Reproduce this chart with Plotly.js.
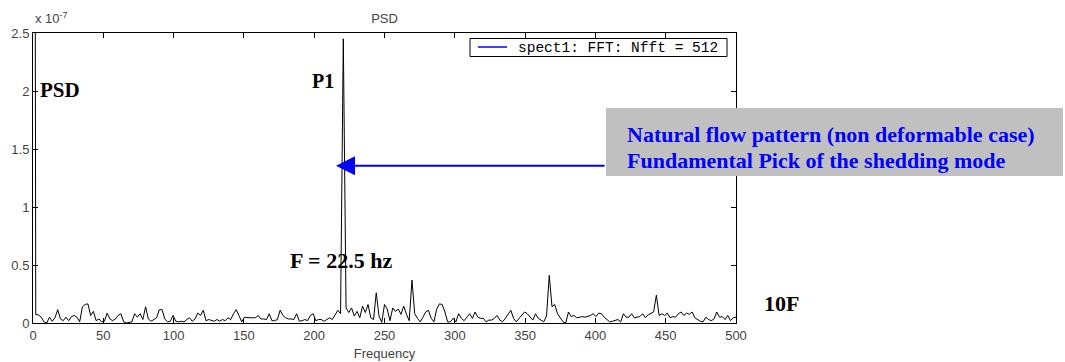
<!DOCTYPE html>
<html>
<head>
<meta charset="utf-8">
<script src="https://cdn.plot.ly/plotly-3.0.1.min.js"></script>
<style>html,body{margin:0;padding:0;background:#fff;}#chart{width:1065px;height:362px;}</style>
</head>
<body>
<div id="chart"></div>
<script>
// FFT parameters (legend: spect1: FFT: Nfft = 512)
const fs = 1000;
const nfft = 512;
const seriesName = 'spect1: FFT: Nfft = 512';

// PSD values in units of 1e-7, one per FFT bin (bin k at k*fs/nfft Hz)
const psd = [
  15, 0.072, 0.07, 0.05, 0.01, 0.0, 0.05, 0.015, 0.045, 0.115,
  0.035, 0.02, 0.05, 0.02, 0.055, 0.065, 0.05, 0.01, 0.14, 0.16,
  0.165, 0.065, 0.1, 0.02, 0.035, 0.01, 0.015, 0.085, 0.035, 0.02,
  0.035, 0.065, 0.08, 0.01, 0.0, 0.005, 0.01, 0.08, 0.05, 0.08,
  0.03, 0.14, 0.035, 0.015, 0.03, 0.045, 0.115, 0.115, 0.035, 0.01,
  0.015, 0.065, 0.015, 0.01, 0.015, 0.01, 0.03, 0.045, 0.015, 0.035,
  0.085, 0.065, 0.11, 0.02, 0.03, 0.02, 0.015, 0.03, 0.015, 0.03,
  0.02, 0.045, 0.03, 0.08, 0.115, 0.065, 0.01, 0.05, 0.045, 0.045,
  0.045, 0.045, 0.065, 0.035, 0.035, 0.03, 0.08, 0.02, 0.02, 0.03,
  0.11, 0.065, 0.045, 0.035, 0.035, 0.03, 0.08, 0.015, 0.02, 0.03,
  0.02, 0.065, 0.08, 0.02, 0.03, 0.03, 0.015, 0.03, 0.045, 0.03,
  0.065, 0.11, 0.08, 2.45, 0.13, 0.09, 0.13, 0.06, 0.10, 0.045,
  0.145, 0.09, 0.16, 0.045, 0.03, 0.26, 0.06, 0.005, 0.16, 0.12,
  0.02, 0.13, 0.10, 0.12, 0.075, 0.145, 0.075, 0.02, 0.37, 0.08,
  0.04, 0.01, 0.05, 0.095, 0.11, 0.04, 0.01, 0.12, 0.165, 0.16,
  0.095, 0.01, 0.01, 0.04, 0.01, 0.08, 0.04, 0.02, 0.05, 0.08,
  0.04, 0.095, 0.05, 0.04, 0.04, 0.01, 0.025, 0.025, 0.04, 0.065,
  0.025, 0.01, 0.04, 0.075, 0.11, 0.04, 0.01, 0.04, 0.065, 0.095,
  0.08, 0.05, 0.025, 0.08, 0.04, 0.025, 0.01, 0.06, 0.41, 0.14,
  0.16, 0.08, 0.045, 0.01, 0.0, 0.095, 0.055, 0.065, 0.045, 0.05,
  0.055, 0.05, 0.055, 0.065, 0.08, 0.055, 0.085, 0.08, 0.05, 0.03,
  0.01, 0.015, 0.02, 0.03, 0.01, 0.08, 0.05, 0.05, 0.08, 0.045,
  0.05, 0.055, 0.08, 0.045, 0.07, 0.085, 0.095, 0.24, 0.065, 0.08,
  0.065, 0.085, 0.045, 0.055, 0.05, 0.08, 0.095, 0.065, 0.085, 0.075,
  0.095, 0.045, 0.03, 0.015, 0.01, 0.05, 0.03, 0.02, 0.035, 0.095,
  0.05, 0.055, 0.03, 0.065, 0.02, 0.045, 0.05
];
const freq = psd.map((_, k) => k * fs / nfft);

// Axis ticks
const xTicks = [0, 50, 100, 150, 200, 250, 300, 350, 400, 450, 500];
const yTicks = [0, 0.5, 1, 1.5, 2, 2.5];
const yTickText = ['0', '0.5', '1', '1.5', '2', '2.5'];

// Text labels
const boxLines = ['Natural flow pattern (non deformable case)', 'Fundamental Pick of the shedding mode'];

// layout geometry (pixels)
const W = 1065, H = 362;
const M = {l: 33, r: 329, t: 33, b: 39};
const PW = W - M.l - M.r, PH = H - M.t - M.b;
const px = x => (x - M.l) / PW;
const py = y => (H - M.b - y) / PH;

const tickFont = {family: 'Liberation Sans, Arial, sans-serif', size: 13, color: '#444'};
const serif = 'Liberation Serif, Times New Roman, serif';
const boldSerif = s => ({family: serif, size: s, color: '#000'});
const monoFont = {family: 'Liberation Mono, Courier New, monospace', size: 14.5, color: '#000'};

const traces = [
  {x: freq, y: psd, type: 'scatter', mode: 'lines', line: {color: '#000', width: 1}, name: seriesName, showlegend: false, hoverinfo: 'x+y'}
];

const layout = {
  width: W, height: H,
  margin: M,
  paper_bgcolor: '#fff', plot_bgcolor: '#fff',
  showlegend: false,
  title: {text: 'PSD', font: tickFont, x: 0.5, xref: 'paper', xanchor: 'center', y: 1 - 18 / H, yref: 'container', yanchor: 'middle'},
  xaxis: {
    range: [0, 500], tickvals: xTicks, ticks: 'inside', ticklen: 5, tickcolor: '#000',
    showline: true, linecolor: '#000', linewidth: 1, mirror: 'ticks', showgrid: false, zeroline: false,
    tickfont: tickFont, title: {text: 'Frequency', font: tickFont, standoff: 7}
  },
  yaxis: {
    range: [0, 2.5], tickvals: yTicks, ticktext: yTickText, ticks: 'inside', ticklen: 5, tickcolor: '#000',
    showline: true, linecolor: '#000', linewidth: 1, mirror: 'ticks', showgrid: false, zeroline: false,
    tickfont: tickFont
  },
  shapes: [
    // legend box and its blue sample line
    {type: 'rect', xref: 'paper', yref: 'paper', x0: px(470), x1: px(727), y0: py(56.5), y1: py(38.5),
     fillcolor: '#fff', line: {color: '#000', width: 1}, layer: 'above'},
    {type: 'line', xref: 'paper', yref: 'paper', x0: px(478), x1: px(507), y0: py(47), y1: py(47),
     line: {color: 'rgb(0,0,255)', width: 1.5}, layer: 'above'},
    // grey callout box
    {type: 'rect', xref: 'paper', yref: 'paper', x0: px(606), x1: px(1063), y0: py(176), y1: py(108),
     fillcolor: '#c0c0c0', line: {width: 0}, layer: 'above'}
  ],
  annotations: [
    {xref: 'paper', yref: 'paper', x: px(516), y: py(47.5), xanchor: 'left', yanchor: 'middle', showarrow: false,
     text: seriesName, font: monoFont},
    {xref: 'paper', yref: 'paper', x: 0, y: py(28), xanchor: 'left', yanchor: 'bottom', showarrow: false,
     text: 'x 10<sup>-7</sup>', font: tickFont},
    {xref: 'paper', yref: 'paper', x: px(60), y: py(90), xanchor: 'center', yanchor: 'middle', showarrow: false,
     text: '<b>PSD</b>', font: boldSerif(21)},
    {xref: 'paper', yref: 'paper', x: px(322.5), y: py(80.5), xanchor: 'center', yanchor: 'middle', showarrow: false,
     text: '<b>P1</b>', font: boldSerif(20)},
    {xref: 'paper', yref: 'paper', x: px(341), y: py(260.5), xanchor: 'center', yanchor: 'middle', showarrow: false,
     text: '<b>F = 22.5 hz</b>', font: boldSerif(22)},
    {xref: 'paper', yref: 'paper', x: px(781), y: py(303), xanchor: 'center', yanchor: 'middle', showarrow: false,
     text: '<b>10F</b>', font: boldSerif(22)},
    {xref: 'paper', yref: 'paper', x: px(625), y: py(134), xanchor: 'left', yanchor: 'middle', align: 'left', showarrow: false,
     text: '<b>' + boxLines[0] + '</b>', font: {family: serif, size: 22, color: '#0000ff'}},
    {xref: 'paper', yref: 'paper', x: px(625), y: py(160), xanchor: 'left', yanchor: 'middle', align: 'left', showarrow: false,
     text: '<b>' + boxLines[1] + '</b>', font: {family: serif, size: 22, color: '#0000ff'}},
    {xref: 'paper', yref: 'paper', x: px(336), y: py(165.7), text: '', showarrow: true,
     ax: 270, ay: 0, arrowcolor: '#0000ff', arrowwidth: 2, arrowhead: 2, arrowsize: 1.9, standoff: 0}
  ]
};

Plotly.newPlot('chart', traces, layout, {displayModeBar: false, staticPlot: true});
</script>
</body>
</html>
